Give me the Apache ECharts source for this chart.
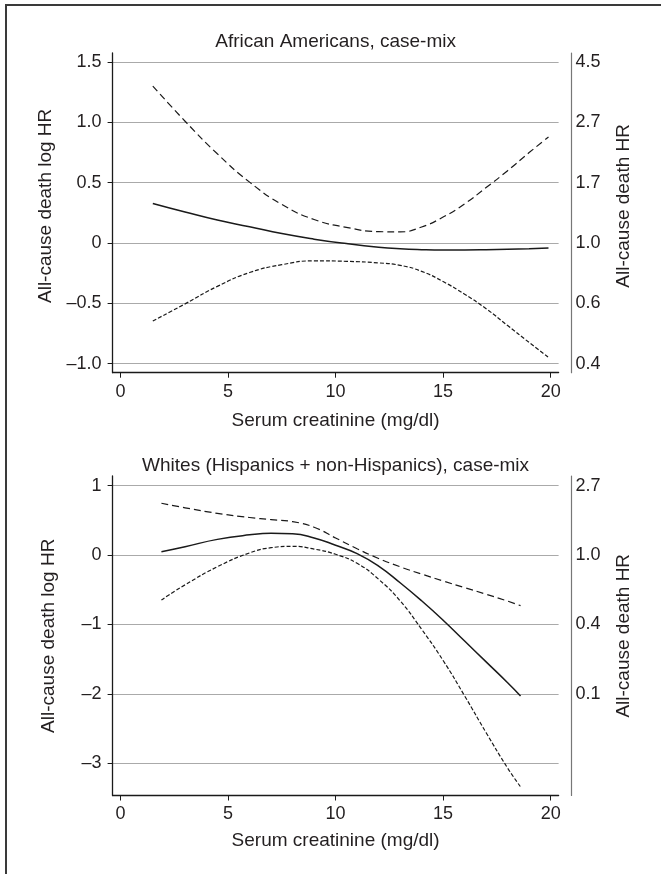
<!DOCTYPE html>
<html>
<head>
<meta charset="utf-8">
<script src="https://cdn.jsdelivr.net/npm/echarts@6/dist/echarts.min.js"></script>
<style>
html, body { margin: 0; padding: 0; background: #fff; }
#wrap { position: relative; width: 661px; height: 874px; }
#chart { width: 661px; height: 874px; }
#frame { position: absolute; left: 5px; top: 4px; right: 0; bottom: 0;
  border-top: 2px solid #3a3a3a; border-left: 2px solid #3a3a3a; pointer-events: none; }
</style>
</head>
<body>
<div id="wrap"><div id="chart"></div><div id="frame"></div></div>
<script>
// serum creatinine (mg/dl) sample points
var aaX = [1.5, 3, 4.5, 6, 7.5, 9, 10.5, 12, 13, 14, 15, 16, 17, 18, 19, 19.9];
var aaEst = [0.328, 0.257, 0.19, 0.135, 0.078, 0.032, -0.005, -0.035, -0.048, -0.055, -0.058, -0.058, -0.056, -0.052, -0.047, -0.041];
var aaUpper = [1.302, 1.01, 0.74, 0.505, 0.32, 0.195, 0.13, 0.094, 0.092, 0.133, 0.215, 0.325, 0.46, 0.60, 0.75, 0.88];
var aaLower = [-0.647, -0.505, -0.36, -0.245, -0.18, -0.148, -0.152, -0.165, -0.185, -0.235, -0.32, -0.425, -0.545, -0.685, -0.825, -0.948];

var whX = [1.9, 3, 4.5, 6, 7, 8, 9, 10, 11, 12, 13, 14, 15, 16, 17, 18, 18.6];
var whEst = [0.048, 0.12, 0.225, 0.29, 0.312, 0.305, 0.245, 0.14, 0.02, -0.16, -0.40, -0.66, -0.94, -1.24, -1.54, -1.84, -2.03];
var whUpper = [0.745, 0.68, 0.60, 0.54, 0.51, 0.48, 0.40, 0.245, 0.09, -0.05, -0.17, -0.275, -0.375, -0.47, -0.565, -0.665, -0.73];
var whLower = [-0.648, -0.43, -0.17, 0.03, 0.105, 0.125, 0.085, 0.01, -0.12, -0.35, -0.66, -1.07, -1.52, -2.03, -2.56, -3.07, -3.34];

// ticks and labels
var xTicks = [0, 5, 10, 15, 20];
var xLabels = ['0', '5', '10', '15', '20'];
var aaTicks = [-1, -0.5, 0, 0.5, 1, 1.5];
var aaLogLabels = ['\u20131.0', '\u20130.5', '0', '0.5', '1.0', '1.5'];
var aaHRLabels = ['0.4', '0.6', '1.0', '1.7', '2.7', '4.5'];
var whTicks = [-3, -2, -1, 0, 1];
var whLogLabels = ['\u20133', '\u20132', '\u20131', '0', '1'];
var whHRTicks = [-2, -1, 0, 1];
var whHRLabels = ['0.1', '0.4', '1.0', '2.7'];

var titles = ['African Americans, case-mix', 'Whites (Hispanics + non-Hispanics), case-mix'];

var FONT = '"Liberation Sans", Arial, sans-serif';
var INK = '#231f20';

function pairs(xs, ys) {
    return xs.map(function (x, i) { return [x, ys[i]]; });
}
function lookup(ticks, labels) {
    return function (v) {
        for (var i = 0; i < ticks.length; i++) {
            if (Math.abs(ticks[i] - v) < 1e-6) return labels[i];
        }
        return '';
    };
}

function xAxisFor(g, gap) {
    return {
        type: 'value', gridIndex: g, min: -0.37, max: 20.37,
        name: 'Serum creatinine (mg/dl)', nameLocation: 'middle', nameGap: gap,
        nameTextStyle: { fontFamily: FONT, fontSize: 19, color: INK },
        axisLine: { onZero: false, lineStyle: { color: '#1a1a1a', width: 1.3 } },
        axisTick: { customValues: xTicks, length: 5, lineStyle: { color: '#1a1a1a', width: 1 } },
        axisLabel: { customValues: xTicks, formatter: lookup(xTicks, xLabels), margin: 10,
            fontFamily: FONT, fontSize: 18, color: INK },
        splitLine: { show: false }
    };
}
function leftAxisFor(g, min, max, ticks, labels, pad) {
    return {
        type: 'value', gridIndex: g, min: min, max: max, position: 'left',
        name: 'All-cause death log HR', nameLocation: 'middle', nameGap: 54, nameRotate: 90,
        nameTextStyle: { fontFamily: FONT, fontSize: 19, color: INK, padding: [0, 0, 0, pad] },
        axisLine: { show: true, onZero: false, lineStyle: { color: '#1a1a1a', width: 1.3 } },
        axisTick: { show: true, customValues: ticks, length: 5, lineStyle: { color: '#1a1a1a', width: 1 } },
        axisLabel: { customValues: ticks, formatter: lookup(ticks, labels), margin: 11,
            fontFamily: FONT, fontSize: 18, color: INK },
        splitLine: { show: true, lineStyle: { color: '#aaaaaa', width: 1.2 } }
    };
}
function rightAxisFor(g, min, max, ticks, labels, pad) {
    return {
        type: 'value', gridIndex: g, min: min, max: max, position: 'right', offset: 12.4,
        name: 'All-cause death HR', nameLocation: 'middle', nameGap: 43, nameRotate: 90,
        nameTextStyle: { fontFamily: FONT, fontSize: 19, color: INK, padding: [0, 0, 0, pad] },
        axisLine: { show: true, onZero: false, lineStyle: { color: '#777', width: 1.2 } },
        axisTick: { show: false, customValues: ticks },
        axisLabel: { customValues: ticks, formatter: lookup(ticks, labels), margin: 4.5,
            fontFamily: FONT, fontSize: 18, color: INK },
        splitLine: { show: false }
    };
}
function curve(xi, yi, xs, ys, dash, width) {
    return {
        type: 'line', xAxisIndex: xi, yAxisIndex: yi, data: pairs(xs, ys),
        smooth: 0.5, showSymbol: false, clip: false, silent: true,
        lineStyle: { color: '#1a1a1a', width: width, type: dash }
    };
}

var myChart = echarts.init(document.getElementById('chart'));
var option = {
    animation: false,
    title: [
        { text: titles[0], left: 335.6, top: 32, textAlign: 'center', padding: 0,
          textStyle: { fontFamily: FONT, fontSize: 19, fontWeight: 'normal', color: INK } },
        { text: titles[1], left: 335.6, top: 456, textAlign: 'center', padding: 0,
          textStyle: { fontFamily: FONT, fontSize: 19, fontWeight: 'normal', color: INK } }
    ],
    grid: [
        { left: 112.6, top: 53, width: 446, height: 319.7 },
        { left: 112.6, top: 476, width: 446, height: 319.5 }
    ],
    xAxis: [xAxisFor(0, 38.5), xAxisFor(1, 35.5)],
    yAxis: [
        leftAxisFor(0, -1.0758, 1.576, aaTicks, aaLogLabels, 14),
        rightAxisFor(0, -1.0758, 1.576, aaTicks, aaHRLabels, 14),
        leftAxisFor(1, -3.465, 1.138, whTicks, whLogLabels, 0),
        rightAxisFor(1, -3.465, 1.138, whHRTicks, whHRLabels, 0)
    ],
    series: [
        curve(0, 0, aaX, aaEst, 'solid', 1.5),
        curve(0, 0, aaX, aaUpper, [7, 4], 1.2),
        curve(0, 0, aaX, aaLower, [4, 2], 1.2),
        curve(1, 2, whX, whEst, 'solid', 1.5),
        curve(1, 2, whX, whUpper, [7, 4], 1.2),
        curve(1, 2, whX, whLower, [4, 2], 1.2)
    ]
};
myChart.setOption(option);
</script>
</body>
</html>
